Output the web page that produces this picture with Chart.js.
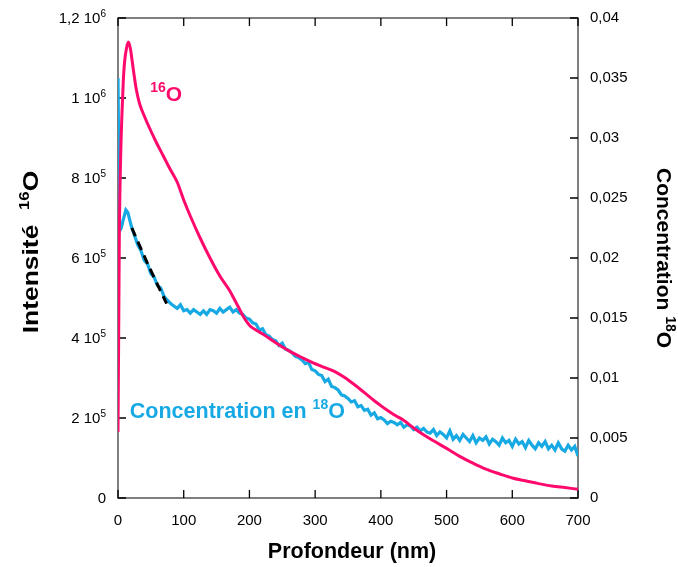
<!DOCTYPE html>
<html>
<head>
<meta charset="utf-8">
<script src="https://cdn.jsdelivr.net/npm/chart.js@4.4.1/dist/chart.umd.min.js"></script>
<style>
  html, body { margin: 0; padding: 0; background: #fff; }
  canvas { display: block; }
</style>
</head>
<body>
<canvas id="myChart" width="678" height="567"></canvas>
<script>
// 16O intensity (left axis)
var depth16 = [0, 1, 2, 4, 6, 8, 10, 13, 16, 19, 23, 28, 33, 40, 48, 58, 69, 80, 90, 100,
  110, 125, 140, 155, 170, 176, 185, 191, 201, 210, 222, 240, 262, 280, 297, 315, 330, 345,
  360, 373, 390, 404, 420, 434, 450, 465, 480, 500, 520, 540, 560, 581, 600, 620, 640, 660, 680, 700];
var int16 = [165000, 400000, 650000, 850000, 960000, 1040000, 1090000, 1125000, 1140000, 1122000,
  1075000, 1020000, 985000, 955000, 925000, 890000, 855000, 820000, 790000, 745000,
  705000, 650000, 600000, 555000, 518000, 500000, 472000, 453000, 430000, 420000, 408000, 388000,
  366000, 351000, 338000, 326000, 316000, 301000, 283000, 266000, 243000, 226000, 208000, 195000,
  175000, 158000, 143000, 124000, 104000, 87000, 72000, 60000, 50000, 43000, 36000, 30000, 26000, 22000];

// 18O concentration (right axis)
var depth18 = [0, 2, 5, 8, 12, 15, 20, 25, 30, 35, 40, 45, 50, 55, 60, 65, 70, 75,
  80, 85, 90, 95, 100, 105, 110, 115, 120, 125, 130, 135, 140, 145, 150, 155, 160, 165, 170, 175,
  180, 185, 190, 195, 200, 205, 210, 215, 220, 225, 230, 235, 240, 245, 250, 255, 260, 265, 270, 275,
  280, 285, 290, 295, 300, 305, 310, 315, 320, 325, 330, 335, 340, 345, 350, 355, 360, 365, 370, 375,
  380, 385, 390, 395, 400, 405, 410, 415, 420, 425, 430, 435, 440, 445, 450, 455, 460, 465, 470, 475,
  480, 485, 490, 495, 500, 505, 510, 515, 520, 525, 530, 535, 540, 545, 550, 555, 560, 565, 570, 575,
  580, 585, 590, 595, 600, 605, 610, 615, 620, 625, 630, 635, 640, 645, 650, 655, 660, 665, 670, 675,
  680, 685, 690, 695, 700];
var conc18 = [0.0350, 0.0222, 0.0225, 0.0232, 0.0240, 0.0238, 0.0227, 0.0219, 0.0211, 0.0206, 0.0198, 0.0195, 0.0187, 0.0184, 0.0177, 0.0175, 0.0168, 0.0165,
  0.0162, 0.0160, 0.0158, 0.0161, 0.0156, 0.0157, 0.0154, 0.0157, 0.0155, 0.0153, 0.0156, 0.0153, 0.0157, 0.0156, 0.0154, 0.0158, 0.0155, 0.0157, 0.0159, 0.0155,
  0.0157, 0.0154, 0.0153, 0.0150, 0.0149, 0.0146, 0.0145, 0.0140, 0.0141, 0.0136, 0.0135, 0.0132, 0.0131, 0.0127, 0.0129, 0.0124, 0.0123, 0.0121, 0.0118, 0.0117,
  0.0115, 0.0112, 0.0113, 0.0107, 0.0106, 0.0103, 0.0102, 0.0097, 0.0099, 0.0093, 0.0092, 0.0090, 0.0086, 0.0085, 0.0083, 0.0080, 0.0081, 0.0076, 0.0077, 0.0073,
  0.0074, 0.0069, 0.0071, 0.0066, 0.0067, 0.0065, 0.0062, 0.0064, 0.0063, 0.0061, 0.0063, 0.0059, 0.0061, 0.0060, 0.0057, 0.0059, 0.0056, 0.0058, 0.0055, 0.0054,
  0.0057, 0.0052, 0.0055, 0.0053, 0.0050, 0.0056, 0.0049, 0.0052, 0.0048, 0.0053, 0.0050, 0.0047, 0.0052, 0.0046, 0.0050, 0.0048, 0.0051, 0.0045, 0.0049, 0.0047,
  0.0044, 0.0050, 0.0046, 0.0048, 0.0043, 0.0049, 0.0045, 0.0047, 0.0042, 0.0048, 0.0044, 0.0041, 0.0046, 0.0043, 0.0047, 0.0041, 0.0044, 0.0040, 0.0046, 0.0041,
  0.0039, 0.0044, 0.0040, 0.0043, 0.0035];

// dashed fit segment (right axis)
var fitDepth = [21, 47, 74];
var fitConc = [0.0225, 0.0193, 0.0162];

var xTicks = [0, 100, 200, 300, 400, 500, 600, 700];
var leftTicks = [0, 200000, 400000, 600000, 800000, 1000000, 1200000];
var leftTickLabels = [["0", ""], ["2 10", "5"], ["4 10", "5"], ["6 10", "5"], ["8 10", "5"], ["1 10", "6"], ["1,2 10", "6"]];
var rightTicks = [0, 0.005, 0.01, 0.015, 0.02, 0.025, 0.03, 0.035, 0.04];
var rightTickLabels = ["0", "0,005", "0,01", "0,015", "0,02", "0,025", "0,03", "0,035", "0,04"];

var pink = "#FF0A6C";
var blue = "#17A9E4";
var FONT = "'Liberation Sans', Arial, sans-serif";

function pts(xs, ys) {
  return xs.map(function (x, i) { return { x: x, y: ys[i] }; });
}

// text with a raised part in the middle: pre + sup + post
function drawSupLabel(ctx, pre, sup, post, x, y, size, supSize, weight, align) {
  ctx.font = weight + " " + size + "px " + FONT;
  var w1 = ctx.measureText(pre).width;
  var w3 = ctx.measureText(post).width;
  ctx.font = weight + " " + supSize + "px " + FONT;
  var w2 = ctx.measureText(sup).width;
  var total = w1 + w2 + w3;
  var x0 = align === "center" ? x - total / 2 : (align === "right" ? x - total : x);
  ctx.textAlign = "left";
  ctx.textBaseline = "alphabetic";
  ctx.font = weight + " " + size + "px " + FONT;
  ctx.fillText(pre, x0, y);
  ctx.font = weight + " " + supSize + "px " + FONT;
  ctx.fillText(sup, x0 + w1, y - size * 0.42);
  ctx.font = weight + " " + size + "px " + FONT;
  ctx.fillText(post, x0 + w1 + w2, y);
}

var framePlugin = {
  id: "frame",
  beforeDatasetsDraw: function (chart) {
    var ctx = chart.ctx, a = chart.chartArea;
    var sx = chart.scales.x, sy = chart.scales.y, sy1 = chart.scales.y1;
    var L = 8;
    ctx.save();
    ctx.strokeStyle = "#555";
    ctx.lineWidth = 1.5;
    ctx.strokeRect(a.left, a.top, a.right - a.left, a.bottom - a.top);
    ctx.strokeStyle = "#000";
    ctx.lineWidth = 1.3;
    ctx.beginPath();
    xTicks.forEach(function (v) {
      var px = sx.getPixelForValue(v);
      ctx.moveTo(px, a.bottom); ctx.lineTo(px, a.bottom - L);
      ctx.moveTo(px, a.top); ctx.lineTo(px, a.top + L);
    });
    leftTicks.forEach(function (v) {
      var py = sy.getPixelForValue(v);
      ctx.moveTo(a.left, py); ctx.lineTo(a.left + L, py);
    });
    rightTicks.forEach(function (v) {
      var py = sy1.getPixelForValue(v);
      ctx.moveTo(a.right, py); ctx.lineTo(a.right - L, py);
    });
    ctx.stroke();
    ctx.restore();
  },
  afterDraw: function (chart) {
    var ctx = chart.ctx, a = chart.chartArea;
    var sx = chart.scales.x, sy = chart.scales.y, sy1 = chart.scales.y1;
    ctx.save();
    ctx.fillStyle = "#000";
    // tick labels
    ctx.font = "15px " + FONT;
    ctx.textBaseline = "middle";
    ctx.textAlign = "center";
    xTicks.forEach(function (v) {
      ctx.fillText(String(v), sx.getPixelForValue(v), a.bottom + 23);
    });
    leftTicks.forEach(function (v, i) {
      var lab = leftTickLabels[i];
      drawSupLabel(ctx, lab[0], lab[1], "", a.left - 12, sy.getPixelForValue(v) + 5, 15, 10, "normal", "right");
    });
    ctx.font = "15px " + FONT;
    ctx.textAlign = "left";
    ctx.textBaseline = "middle";
    rightTicks.forEach(function (v, i) {
      ctx.fillText(rightTickLabels[i], a.right + 12, sy1.getPixelForValue(v));
    });

    // axis titles
    ctx.fillStyle = "#000";
    ctx.font = "bold 21.5px " + FONT;
    ctx.textAlign = "center";
    ctx.textBaseline = "alphabetic";
    ctx.fillText("Profondeur (nm)", (a.left + a.right) / 2 + 4, 558);

    ctx.save();
    ctx.translate(38, 252);
    ctx.rotate(-Math.PI / 2);
    ctx.scale(1.2, 1);
    drawSupLabel(ctx, "Intensité  ", "16", "O", 0, 0, 22, 14, "bold", "center");
    ctx.restore();

    ctx.save();
    ctx.translate(657, 258);
    ctx.rotate(Math.PI / 2);
    drawSupLabel(ctx, "Concentration ", "18", "O", 0, 0, 21, 14, "bold", "center");
    ctx.restore();

    // series labels
    ctx.fillStyle = pink;
    drawSupLabel(ctx, "", "16", "O", sx.getPixelForValue(49), sy.getPixelForValue(992000), 21, 14, "bold", "left");
    ctx.fillStyle = blue;
    drawSupLabel(ctx, "Concentration en ", "18", "O", sx.getPixelForValue(18), sy.getPixelForValue(200000), 21.5, 14, "bold", "left");
    ctx.restore();
  }
};

new Chart("myChart", {
  type: "line",
  data: {
    datasets: [{
      data: pts(depth16, int16),
      yAxisID: "y",
      order: 1,
      borderColor: pink,
      borderWidth: 3,
      pointRadius: 0,
      cubicInterpolationMode: "monotone"
    }, {
      data: pts(depth18, conc18),
      yAxisID: "y1",
      order: 2,
      borderColor: blue,
      borderWidth: 3.2,
      pointRadius: 0,
      tension: 0
    }, {
      data: pts(fitDepth, fitConc),
      yAxisID: "y1",
      order: 0,
      borderColor: "#000",
      borderWidth: 3,
      borderDash: [9, 6],
      pointRadius: 0,
      tension: 0.3
    }]
  },
  options: {
    responsive: false,
    animation: false,
    devicePixelRatio: 1,
    layout: { padding: { top: 18, left: 0, right: 0, bottom: 0 } },
    plugins: { legend: { display: false }, tooltip: { enabled: false } },
    scales: {
      x: {
        type: "linear", min: 0, max: 700,
        ticks: { display: false, stepSize: 100 },
        grid: { display: false }, border: { display: false },
        afterFit: function (s) { s.height = 69; }
      },
      y: {
        position: "left", min: 0, max: 1200000,
        ticks: { display: false, stepSize: 200000 },
        grid: { display: false }, border: { display: false },
        afterFit: function (s) { s.width = 118; }
      },
      y1: {
        position: "right", min: 0, max: 0.04,
        ticks: { display: false, stepSize: 0.005 },
        grid: { display: false }, border: { display: false },
        afterFit: function (s) { s.width = 100; }
      }
    }
  },
  plugins: [framePlugin]
});
</script>
</body>
</html>
